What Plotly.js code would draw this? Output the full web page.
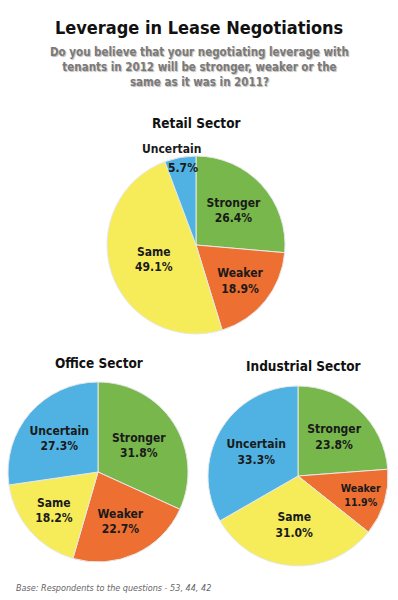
<!DOCTYPE html>
<html>
<head>
<meta charset="utf-8">
<script src="https://cdn.plot.ly/plotly-3.0.1.min.js"></script>
<style>
html,body{margin:0;padding:0;background:#fff;}
#chart{width:398px;height:600px;}
</style>
</head>
<body>
<div id="chart"></div>
<script>
var categories = ["Stronger", "Weaker", "Same", "Uncertain"];
var retailValues = [26.4, 18.9, 49.1, 5.7];
var officeValues = [31.8, 22.7, 18.2, 27.3];
var industrialValues = [23.8, 11.9, 31.0, 33.3];
var sectorTitles = ["Retail Sector", "Office Sector", "Industrial Sector"];
var mainTitle = "Leverage in Lease Negotiations";
var subtitle = "Do you believe that your negotiating leverage with<br>tenants in 2012 will be stronger, weaker or the<br>same as it was in 2011?";
var footnote = "Base: Respondents to the questions - 53, 44, 42";

var colors = ["#77b74b", "#ee6f32", "#f6ec5a", "#4fb2e2"];
var labelFont = "'DejaVu Sans Condensed', 'Liberation Sans Narrow', sans-serif";

function texts(vals, hideIdx) {
  return vals.map(function (v, i) {
    if (i === hideIdx) return "";
    return "<b>" + categories[i] + "<br>" + v.toFixed(1) + "%</b>";
  });
}

function pie(vals, dom, hideIdx) {
  return {
    type: "pie",
    labels: categories,
    values: vals,
    text: texts(vals, hideIdx),
    textinfo: "text",
    textposition: "inside",
    insidetextorientation: "horizontal",
    sort: false,
    direction: "clockwise",
    rotation: 0,
    marker: {colors: colors, line: {color: "#e8e8e8", width: 1}},
    textfont: {family: labelFont, size: 12, color: "#1a1a1a"},
    domain: dom,
    hoverinfo: "label+percent",
    showlegend: false
  };
}

var data = [
  pie(retailValues, {x: [107/398, 285/398], y: [1 - 334/600, 1 - 156/600]}, 3),
  pie(officeValues, {x: [8/398, 188/398], y: [1 - 562/600, 1 - 382/600]}),
  pie(industrialValues, {x: [208/398, 388/398], y: [1 - 566/600, 1 - 386/600]})
];

var ann = [
  {text: "<b>" + mainTitle + "</b>", x: 0.5, y: 1 - 27/600, font: {family: labelFont, size: 18, color: "#111"}},
  {text: "<b>" + subtitle + "</b>", x: 0.5, y: 1 - 67/600, font: {family: labelFont, size: 11.5, color: "#7a7a7a", shadow: "1px 1px 1px #bbb"}},
  {text: "<b>" + sectorTitles[0] + "</b>", x: 196/398, y: 1 - 123/600, font: {family: labelFont, size: 13.5, color: "#111"}},
  {text: "<b>" + sectorTitles[1] + "</b>", x: 99/398, y: 1 - 363/600, font: {family: labelFont, size: 13.5, color: "#111"}},
  {text: "<b>" + sectorTitles[2] + "</b>", x: 303/398, y: 1 - 366/600, font: {family: labelFont, size: 13.5, color: "#111"}},
  {text: "<b>" + categories[3] + "</b>", x: 171/398, y: 1 - 149/600, font: {family: labelFont, size: 12, color: "#1a1a1a"}},
  {text: "<b>" + retailValues[3].toFixed(1) + "%</b>", x: 183/398, y: 1 - 168/600, font: {family: labelFont, size: 12, color: "#1a1a1a"}},
  {text: "<i>" + footnote + "</i>", x: 14/398, y: 1 - 588/600, xanchor: "left", font: {family: "'DejaVu Sans Condensed', 'Liberation Sans', sans-serif", size: 9, color: "#666"}}
].map(function (a) {
  return Object.assign({xref: "paper", yref: "paper", showarrow: false, xanchor: a.xanchor || "center", yanchor: "middle"}, a);
});

var layout = {
  width: 398,
  height: 600,
  margin: {l: 0, r: 0, t: 0, b: 0},
  paper_bgcolor: "#ffffff",
  annotations: ann
};

Plotly.newPlot("chart", data, layout, {displayModeBar: false, staticPlot: true});
</script>
</body>
</html>
